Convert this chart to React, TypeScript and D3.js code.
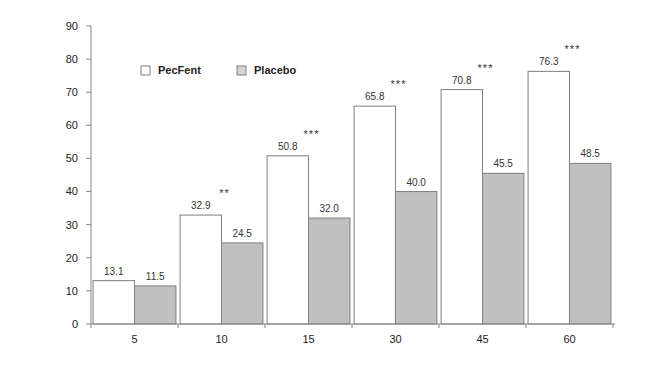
import React from "react";
import * as d3 from "d3";

// values
const categories = ["5", "10", "15", "30", "45", "60"];
const pecFent = [13.1, 32.9, 50.8, 65.8, 70.8, 76.3];
const placebo = [11.5, 24.5, 32.0, 40.0, 45.5, 48.5];
const stars = ["", "**", "***", "***", "***", "***"];
const yTicks = [0, 10, 20, 30, 40, 50, 60, 70, 80, 90];
const seriesNames = ["PecFent", "Placebo"];

export default function App() {
  const width = 662;
  const height = 390;
  const margin = { top: 26, right: 47, bottom: 66, left: 91 };
  const font = "'Liberation Sans', Arial, sans-serif";
  const axisColor = "#868686";
  const colors = ["#ffffff", "#c0c0c0"];

  const x = d3
    .scaleBand()
    .domain(categories)
    .range([margin.left, width - margin.right - 2])
    .paddingInner(0.08)
    .paddingOuter(0.04);

  // bands for the two series inside one category
  const step = x.step();
  const inner = d3
    .scaleBand()
    .domain(seriesNames)
    .range([0, step])
    .paddingOuter(0.05);

  const y = d3
    .scaleLinear()
    .domain([0, 90])
    .range([height - margin.bottom, margin.top]);

  const groupStart = (i) => margin.left + i * step;

  return (
    <div style={{ position: "absolute", left: 0, top: 0 }}>
      <svg width={width} height={height} style={{ display: "block" }}>
        <rect width={width} height={height} fill="#fff" />

        {/* bars */}
        {categories.map((c, i) =>
          [pecFent[i], placebo[i]].map((v, s) => (
            <g key={c + s}>
              <rect
                x={groupStart(i) + inner(seriesNames[s])}
                y={y(v)}
                width={inner.bandwidth()}
                height={y(0) - y(v)}
                fill={colors[s]}
                stroke="#7f7f7f"
                strokeWidth={1}
              />
              <text
                x={groupStart(i) + inner(seriesNames[s]) + inner.bandwidth() / 2}
                y={y(v) - 6}
                textAnchor="middle"
                fontFamily={font}
                fontSize={10}
                fill="#333"
              >
                {v.toFixed(1)}
              </text>
            </g>
          ))
        )}

        {/* significance stars */}
        {categories.map((c, i) => (
          <text
            key={"st" + c}
            x={groupStart(i) + step / 2 + 3}
            y={y(pecFent[i]) - 18}
            textAnchor="middle"
            fontFamily={font}
            fontSize={11}
            letterSpacing={1}
            fill="#333"
          >
            {stars[i]}
          </text>
        ))}

        {/* y axis */}
        <line x1={margin.left} x2={margin.left} y1={y(90)} y2={y(0)} stroke={axisColor} />
        {yTicks.map((t) => (
          <g key={"y" + t}>
            <line x1={margin.left - 5} x2={margin.left} y1={y(t)} y2={y(t)} stroke={axisColor} />
            <text
              x={margin.left - 13}
              y={y(t)}
              dy="0.35em"
              textAnchor="end"
              fontFamily={font}
              fontSize={11}
              fill="#222"
            >
              {t}
            </text>
          </g>
        ))}

        {/* x axis */}
        <line
          x1={margin.left}
          x2={groupStart(categories.length) + 2}
          y1={y(0)}
          y2={y(0)}
          stroke={axisColor}
        />
        {d3.range(categories.length + 1).map((i) => (
          <line
            key={"xt" + i}
            x1={groupStart(i)}
            x2={groupStart(i)}
            y1={y(0)}
            y2={y(0) + 4}
            stroke={axisColor}
          />
        ))}
        {categories.map((c, i) => (
          <text
            key={"xl" + c}
            x={groupStart(i) + step / 2}
            y={y(0) + 19}
            textAnchor="middle"
            fontFamily={font}
            fontSize={11}
            fill="#222"
          >
            {c}
          </text>
        ))}

        {/* legend */}
        {seriesNames.map((name, s) => (
          <g key={"lg" + name} transform={`translate(${141 + s * 96}, 66)`}>
            <rect width={9} height={9} fill={s === 0 ? "#fff" : "#d4d4d4"} stroke="#7f7f7f" />
            <text x={17} y={8} fontFamily={font} fontSize={11} fontWeight="bold" fill="#222">
              {name}
            </text>
          </g>
        ))}
      </svg>
    </div>
  );
}
